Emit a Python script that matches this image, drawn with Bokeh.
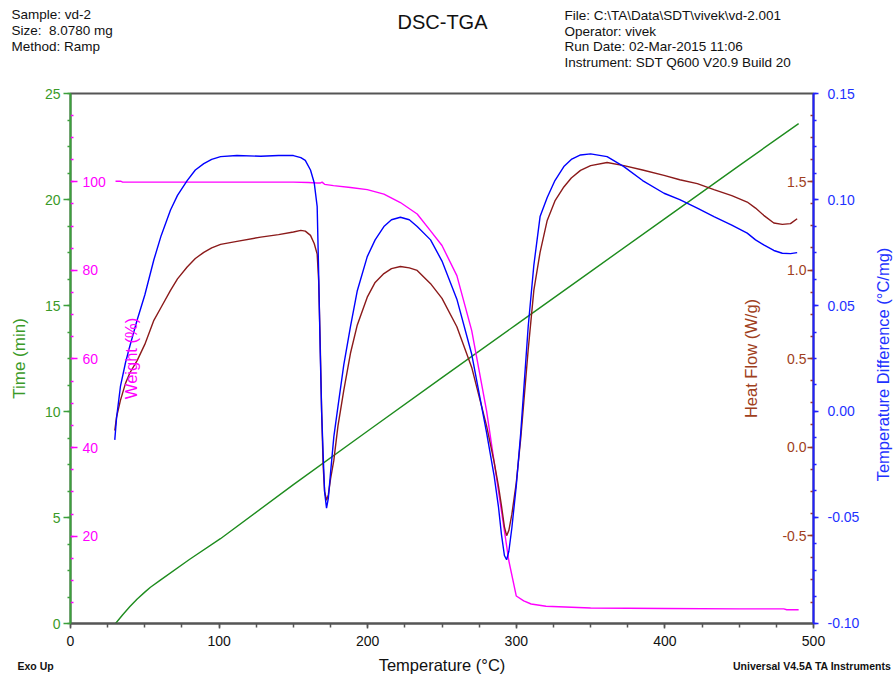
import math
from bokeh.plotting import figure
from bokeh.layouts import column, row
from bokeh.models import (LinearAxis, Range1d, SingleIntervalTicker, NumeralTickFormatter, Label)
from bokeh.core.properties import value
from bokeh.embed import file_html
from bokeh.resources import INLINE

# ---------------- data ----------------
hf_temp = [29.8, 31, 33.6, 37, 40, 44.9, 50, 56.1, 61, 67.3, 72, 78.5, 84, 89.7, 95, 101, 112, 128, 140, 150,
           155, 158, 161.5, 164, 166, 167, 168, 169, 170, 171, 172.3, 173.5, 175, 177.2, 180, 183.9, 188.4, 193,
           199.7, 205, 210.9, 216, 222, 228, 233.3, 242.3, 250, 260, 270, 280, 285, 288, 290, 292, 293.5, 295,
           297, 300, 303, 305, 308, 311.8, 316, 320.8, 326, 332, 337, 343.2, 350, 361.1, 372.4, 385, 399.4, 410,
           421.8, 433, 445, 455.4, 461, 466.5, 473.3, 479, 484.5, 489]
heat_flow = [0.094, 0.17, 0.264, 0.36, 0.42, 0.49, 0.58, 0.716, 0.79, 0.885, 0.95, 1.017, 1.065, 1.10, 1.125,
             1.145, 1.162, 1.186, 1.20, 1.215, 1.224, 1.22, 1.196, 1.15, 1.09, 0.94, 0.6, 0.2, -0.1, -0.25, -0.30,
             -0.27, -0.18, -0.075, 0.12, 0.32, 0.53, 0.69, 0.847, 0.93, 0.98, 1.008, 1.02, 1.012, 0.998, 0.923,
             0.84, 0.68, 0.45, 0.12, -0.08, -0.22, -0.33, -0.45, -0.5, -0.47, -0.38, -0.2, 0.05, 0.25, 0.55, 0.885,
             1.1, 1.28, 1.39, 1.469, 1.52, 1.563, 1.59, 1.607, 1.59, 1.565, 1.535, 1.51, 1.488, 1.454, 1.42,
             1.384, 1.35, 1.309, 1.266, 1.258, 1.262, 1.29]
temp_diff = [-0.0134, -0.003, 0.0118, 0.023, 0.031, 0.0433, 0.055, 0.0716, 0.083, 0.0951, 0.102, 0.109, 0.114,
             0.117, 0.119, 0.1203, 0.1208, 0.1205, 0.1208, 0.1208, 0.1198, 0.1185, 0.114, 0.108, 0.0967, 0.065,
             0.03, 0.0, -0.02, -0.038, -0.0456, -0.041, -0.029, -0.012, 0.0024, 0.022, 0.040, 0.057, 0.0731,
             0.081, 0.0873, 0.0905, 0.0917, 0.0905, 0.0873, 0.081, 0.071, 0.053, 0.027, -0.01, -0.03, -0.045,
             -0.058, -0.068, -0.07, -0.066, -0.055, -0.035, -0.01, 0.01, 0.04, 0.069, 0.092, 0.101, 0.109,
             0.1156, 0.119, 0.1211, 0.1216, 0.1203, 0.1156, 0.109, 0.103, 0.1, 0.096, 0.092, 0.088, 0.0842,
             0.081, 0.0786, 0.076, 0.0747, 0.0745, 0.075]

w_temp = [30.3, 34, 35, 60, 100, 150, 160, 166, 168, 169.3, 171, 177, 188.4, 199.7, 210.9, 222, 233.3, 242.3,
          250, 260, 270, 280, 290, 295, 300, 305, 310, 320, 350, 400, 450, 480, 482, 490]
weight = [100.1, 100.1, 99.9, 99.9, 99.9, 99.9, 99.8, 99.7, 99.7, 99.9, 99.4, 99.1, 98.7, 98.2, 97.2, 95.3,
          92.7, 88.9, 85.6, 78.8, 66.4, 48.3, 25.7, 14.4, 6.5, 5.4, 4.7, 4.2, 3.8, 3.7, 3.6, 3.6, 3.4, 3.4]

t_temp = [30.3, 35, 40, 44.9, 50, 53.8, 60, 80, 100.9, 150, 200, 250, 300, 350, 400, 450, 490]
time_min = [0, 0.4, 0.8, 1.16, 1.48, 1.71, 2.02, 3.02, 4.0, 6.55, 9.08, 11.6, 14.1, 16.6, 19.1, 21.6, 23.58]

left_header = ["Sample: vd-2", "Size:\u00a0 8.0780 mg", "Method: Ramp"]
right_header = ["File: C:\\TA\\Data\\SDT\\vivek\\vd-2.001", "Operator: vivek",
                "Run Date: 02-Mar-2015 11:06", "Instrument: SDT Q600 V20.9 Build 20"]
chart_title = "DSC-TGA"
x_title = "Temperature (°C)"
td_label = "Temperature Difference (°C/mg)"
footer_left = "Exo Up"
footer_right = "Universal V4.5A TA Instruments"

# ---------------- style ----------------
FONT = "Liberation Sans"
GREEN_L, GREEN_T = "#1E8C1E", "#3A9A28"
MAG = "#FF00FF"
BROWN_L, BROWN_T = "#8B1A1A", "#A04020"
BLUE_L, BLUE_T = "#0000FF", "#1E32FF"
W, H = 894, 678
STRIP_W = 21
HEAD_H, MAIN_H, FOOT_H = 81, 574, 23


def blank(w, h, x0, y0, flip=True):
    yr = Range1d(y0 + h, y0) if flip else Range1d(H - y0 - h, H - y0)
    f = figure(width=w, height=h, x_range=Range1d(x0, x0 + w), y_range=yr,
               output_backend="svg", toolbar_location=None, min_border=0,
               x_axis_type=None, y_axis_type=None)
    f.frame_align = False
    f.outline_line_color = None
    f.background_fill_color = "white"
    f.border_fill_color = "white"
    return f


# ---------------- header ----------------
head = blank(W, HEAD_H, 0, 0)
head.text(x=[11] * 3, y=[14, 30, 45.5], text=left_header, text_font=value(FONT),
          text_font_size="13.5px", text_baseline="alphabetic", text_color="#111111")
head.text(x=[564] * 4, y=[15, 30.5, 46, 61.5], text=right_header, text_font=value(FONT),
          text_font_size="13.5px", text_baseline="alphabetic", text_color="#111111")
head.text(x=[442], y=[21], text=[chart_title], text_font=value(FONT), text_font_size="20px",
          text_align="center", text_baseline="alphabetic", text_color="#111111")

# ---------------- main plot ----------------
p = figure(width=W - STRIP_W, height=MAIN_H, x_range=Range1d(0, 500), y_range=Range1d(0, 25),
           output_backend="svg", toolbar_location=None,
           min_border_left=70, min_border_right=W - STRIP_W - 813, min_border_top=12, min_border_bottom=32)
p.frame_align = False
p.xgrid.visible = False
p.ygrid.visible = False
p.outline_line_color = "#555555"
p.outline_line_width = 2
p.background_fill_color = "white"
p.border_fill_color = "white"

p.extra_y_ranges = {
    "weight": Range1d(0.3, 119.9),
    "hf": Range1d(-0.996, 1.997),
    "td": Range1d(-0.1001, 0.1501),
}


def style(ax, color, tcolor, interval, fmt=None):
    ax.ticker = SingleIntervalTicker(interval=interval, num_minor_ticks=4)
    ax.axis_line_color = color
    ax.major_tick_line_color = color
    ax.minor_tick_line_color = color
    ax.major_label_text_color = tcolor
    ax.axis_label_text_color = tcolor
    ax.major_label_text_font = FONT
    ax.axis_label_text_font = FONT
    ax.major_label_text_font_size = "14px"
    ax.axis_label_text_font_size = "16.5px"
    ax.axis_label_text_font_style = "normal"
    ax.major_tick_in = 0
    ax.minor_tick_in = 0
    ax.major_tick_line_width = 1.5
    ax.minor_tick_line_width = 1.5
    if fmt:
        ax.formatter = NumeralTickFormatter(format=fmt)


xa = p.xaxis[0]
style(xa, "#555555", "#111111", 100)
xa.axis_line_width = 2
xa.major_tick_out = 5
xa.minor_tick_out = 4
xa.major_label_standoff = 7

ya = p.yaxis[0]
style(ya, "#3CA03C", GREEN_T, 5)
ya.axis_line_width = 2
ya.major_tick_out = 7
ya.minor_tick_out = 3
ya.major_label_standoff = 3
ya.axis_label = "Time (min)"
ya.axis_label_text_font_size = "17px"
ya.axis_label_standoff = 13

td_ax = LinearAxis(y_range_name="td")
style(td_ax, "#2020FF", BLUE_T, 0.05, "0.00")
td_ax.axis_line_width = 2
td_ax.major_tick_out = 5
td_ax.minor_tick_out = 3
td_ax.major_label_standoff = 9
p.add_layout(td_ax, "right")

w_ax = LinearAxis(y_range_name="weight", fixed_location=0)
style(w_ax, MAG, MAG, 20)
w_ax.axis_line_alpha = 0
w_ax.major_tick_out = 7
w_ax.minor_tick_out = 3
w_ax.major_label_standoff = 5
p.add_layout(w_ax, "right")
p.add_layout(Label(x=40.4, y=60.1, y_range_name="weight", text="Weight (%)", angle=math.pi / 2,
                   text_align="center", text_baseline="middle", text_color=MAG,
                   text_font=FONT, text_font_size="16.5px"))

hf_ax = LinearAxis(y_range_name="hf", axis_label="Heat Flow (W/g)", fixed_location=500)
style(hf_ax, BROWN_T, BROWN_T, 0.5, "0.0")
hf_ax.axis_line_alpha = 0
hf_ax.major_tick_out = 6
hf_ax.minor_tick_out = 3
hf_ax.major_label_standoff = 1
hf_ax.axis_label_standoff = 19
p.add_layout(hf_ax, "left")

p.line(t_temp, time_min, line_color=GREEN_L, line_width=1.4)
p.line(w_temp, weight, line_color=MAG, line_width=1.4, y_range_name="weight")
p.line(hf_temp, heat_flow, line_color=BROWN_L, line_width=1.4, y_range_name="hf")
p.line(hf_temp, temp_diff, line_color=BLUE_L, line_width=1.4, y_range_name="td")

# ---------------- right strip: title of the temperature-difference axis ----------------
strip = blank(STRIP_W, MAIN_H, W - STRIP_W, HEAD_H, flip=False)
strip.text(x=[882], y=[H - 364], text=[td_label], angle=math.pi / 2, text_font=value(FONT),
           text_font_size="16.5px", text_align="center", text_baseline="middle", text_color=BLUE_T)

# ---------------- footer ----------------
y0 = HEAD_H + MAIN_H
foot = blank(W, FOOT_H, 0, y0)
foot.text(x=[441.5], y=[664], text=[x_title], text_font=value(FONT), text_font_size="16.5px",
          text_align="center", text_baseline="alphabetic", text_color="#111111")
foot.text(x=[17], y=[665], text=[footer_left], text_font=value(FONT), text_font_size="10.5px",
          text_font_style="bold", text_baseline="alphabetic", text_color="#111111")
foot.text(x=[891], y=[665], text=[footer_right], text_font=value(FONT), text_font_size="10.5px",
          text_font_style="bold", text_align="right", text_baseline="alphabetic", text_color="#111111")

layout = column(head, row(p, strip, spacing=0), foot, spacing=0)
open("out.html", "w").write(file_html(layout, INLINE))
